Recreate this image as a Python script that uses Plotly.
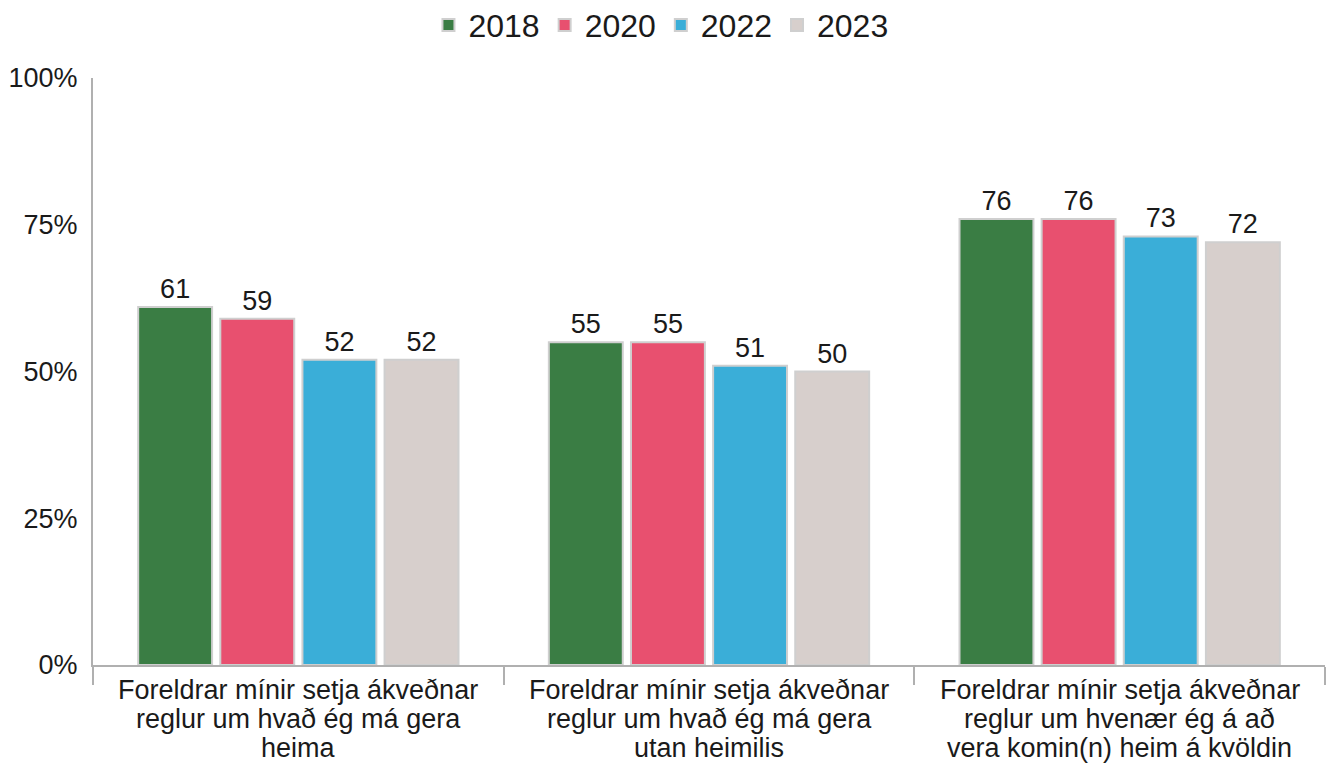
# Grouped bar chart: parental rules, share agreeing by survey year

import plotly.graph_objects as go


CATEGORIES = [
    'Foreldrar mínir setja ákveðnar<br>reglur um hvað ég má gera<br>heima',
    'Foreldrar mínir setja ákveðnar<br>reglur um hvað ég má gera<br>utan heimilis',
    'Foreldrar mínir setja ákveðnar<br>reglur um hvenær ég á að<br>vera komin(n) heim á kvöldin',
]
YEARS = ['2018', '2020', '2022', '2023']
VALUES_2018 = [61, 55, 76]
VALUES_2020 = [59, 55, 76]
VALUES_2022 = [52, 51, 73]
VALUES_2023 = [52, 50, 72]
Y_TICKS = [0, 25, 50, 75, 100]
Y_TICK_LABELS = ['0%', '25%', '50%', '75%', '100%']

COLORS = ['#3a7d44', '#e8506f', '#3aaed8', '#d7cfcc']
FONT = 'Liberation Sans'


def plot_rules():
    fig = go.Figure()
    series = [VALUES_2018, VALUES_2020, VALUES_2022, VALUES_2023]
    for year, vals, color in zip(YEARS, series, COLORS):
        fig.add_trace(go.Bar(
            x=CATEGORIES, y=vals, name=year,
            marker=dict(color=color, line=dict(color='#cfcfcf', width=2)),
            text=vals, textposition='outside',
            textfont=dict(size=27, color='#1a1a1a', family=FONT),
            cliponaxis=False,
        ))

    # category labels drawn line by line (tighter line spacing than tick labels)
    for cat in CATEGORIES:
        for i, line in enumerate(cat.split('<br>')):
            fig.add_annotation(
                x=cat, y=0, xref='x', yref='paper', text=line,
                showarrow=False, yanchor='middle', yshift=-25 - 29 * i,
                font=dict(size=27, color='#1a1a1a', family=FONT),
            )

    fig.update_layout(
        width=1332, height=757,
        font=dict(family=FONT, size=27, color='#1a1a1a'),
        plot_bgcolor='white', paper_bgcolor='white',
        barmode='group', bargap=0.2, bargroupgap=0.1,
        margin=dict(l=85, r=15, t=70, b=100, autoexpand=False),
        legend=dict(orientation='h', x=0.461, xanchor='center', y=1.09,
                    yanchor='middle', font=dict(size=32),
                    itemwidth=30, traceorder='normal'),
    )
    fig.update_xaxes(
        automargin=False,
        showline=True, linecolor='#b0b0b0', linewidth=2,
        ticks='outside', tickson='boundaries', ticklen=18,
        tickcolor='#b0b0b0', tickwidth=2,
        showticklabels=False, showgrid=False,
    )
    fig.update_yaxes(
        automargin=False,
        range=[0, 100], tickvals=Y_TICKS, ticktext=Y_TICK_LABELS,
        showline=True, linecolor='#b0b0b0', linewidth=2,
        showgrid=False, zeroline=False, ticks='', ticklen=0,
        ticklabelstandoff=8, tickfont=dict(size=27),
    )

    fig.write_html('out.html')


if __name__ == '__main__':
    plot_rules()
